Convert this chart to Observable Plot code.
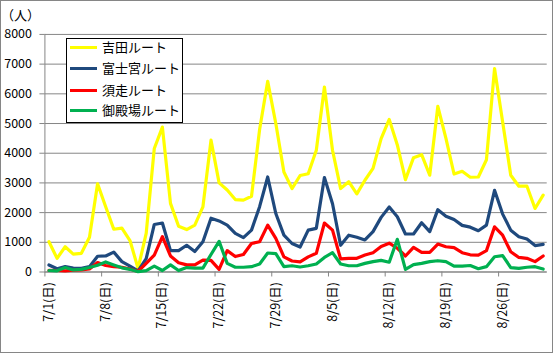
<!DOCTYPE html>
<html><head><meta charset="utf-8">
<script src="https://cdn.jsdelivr.net/npm/d3@7"></script>
<script src="https://cdn.jsdelivr.net/npm/@observablehq/plot@0.6"></script>
<style>
body{margin:0;background:#fff}
#wrap{position:relative;width:553px;height:353px;box-sizing:border-box;border:1px solid #868686;overflow:hidden;font-family:"Noto Sans CJK JP",sans-serif;color:#000}
#chart{position:absolute;left:-1px;top:-1px}
#unit{position:absolute;left:0px;top:4px;font-size:13px;line-height:20px}
#legend{position:absolute;left:65px;top:37px;width:117px;height:85px;box-sizing:border-box;border:1px solid #000;background:#fff}
.row{position:absolute;left:3px;height:20px;line-height:20px;font-size:13px;white-space:nowrap}
.sw{display:inline-block;width:27px;height:3px;vertical-align:middle;margin-right:5px;position:relative;top:-1px}
</style></head>
<body>
<div id="wrap">
  <div id="chart"></div>
  <div id="unit">（人）</div>
  <div id="legend"></div>
</div>
<script>
// categories: 2012/7/1 - 8/31
const days = ["7/1","7/2","7/3","7/4","7/5","7/6","7/7","7/8","7/9","7/10","7/11","7/12","7/13","7/14","7/15","7/16","7/17","7/18","7/19","7/20","7/21","7/22","7/23","7/24","7/25","7/26","7/27","7/28","7/29","7/30","7/31",
"8/1","8/2","8/3","8/4","8/5","8/6","8/7","8/8","8/9","8/10","8/11","8/12","8/13","8/14","8/15","8/16","8/17","8/18","8/19","8/20","8/21","8/22","8/23","8/24","8/25","8/26","8/27","8/28","8/29","8/30","8/31"];
const routes = ["吉田ルート","富士宮ルート","須走ルート","御殿場ルート"];
const colors = ["#FFFF00","#1F497D","#FF0000","#00B050"];
const yoshida = [1020,460,850,600,630,1170,2970,2200,1440,1480,1060,120,1300,4160,4880,2310,1540,1430,1580,2190,4440,3000,2760,2440,2420,2550,4800,6420,5000,3370,2810,
3250,3310,4100,6230,4100,2810,3040,2630,3090,3490,4490,5140,4280,3110,3850,3950,3260,5580,4500,3300,3390,3190,3200,3780,6850,5050,3260,2890,2890,2140,2590];
const fujinomiya = [235,110,180,130,125,180,530,540,670,350,200,40,450,1600,1650,720,720,900,690,1020,1810,1720,1580,1300,1160,1410,2200,3200,1970,1240,960,
840,1410,1470,3180,2300,900,1240,1170,1080,1360,1840,2190,1860,1280,1280,1660,1360,2100,1880,1770,1570,1510,1390,1580,2750,1950,1410,1190,1110,890,930];
const subashiri = [60,50,40,60,70,100,320,220,180,160,100,20,290,570,1190,540,310,240,240,400,390,90,720,520,590,960,1020,1580,1130,510,370,
340,510,630,1650,1410,440,460,460,570,650,860,970,800,540,830,660,660,940,850,820,650,580,570,720,1520,1240,680,490,460,350,540];
const gotemba = [50,40,150,70,90,150,230,340,240,140,90,10,45,200,50,240,50,150,130,130,590,1030,290,160,160,180,270,640,620,180,210,
170,210,270,490,650,270,210,210,290,350,390,330,1100,90,250,290,350,380,350,200,200,220,110,180,515,550,150,120,160,180,100];
const series = [yoshida, fujinomiya, subashiri, gotemba];
const yTicks = [0,1000,2000,3000,4000,5000,6000,7000,8000];
const tickLabels = ["7/1(日)","7/8(日)","7/15(日)","7/22(日)","7/29(日)","8/5(日)","8/12(日)","8/19(日)","8/26(日)"];

const labelIdx = tickLabels.map(t => days.indexOf(t.replace("(日)","")));
const boundaries = labelIdx.map(i => i - 0.5);
const gray = "#868686";

const lineMarks = series.map((vals, k) =>
  Plot.lineY(vals.map((v, i) => ({i, v})), {x: "i", y: "v", stroke: colors[k], strokeWidth: 3.2, strokeLinejoin: "round", strokeLinecap: "round"})
);

const chart = Plot.plot({
  width: 553, height: 353,
  marginLeft: 44.5, marginRight: 5.3, marginTop: 34, marginBottom: 81,
  style: {fontFamily: '"Noto Sans CJK JP", sans-serif', fontSize: "12px", color: "#000", background: "transparent", overflow: "visible"},
  x: {type: "linear", domain: [-0.5, 61.5], axis: null},
  y: {domain: [0, 8000], axis: null},
  marks: [
    Plot.gridY(yTicks, {stroke: gray, strokeOpacity: 1}),
    Plot.axisY(yTicks, {tickSize: 5, tickPadding: 8, stroke: gray, label: null, tickFormat: d => String(d), fontSize: 12.5}),
    Plot.ruleX([-0.5], {stroke: gray}),
    Plot.ruleY([0], {stroke: gray}),
    Plot.axisX(boundaries, {tickSize: 5, tickFormat: () => "", stroke: gray, label: null}),
    Plot.axisX(labelIdx, {tickSize: 0, tickPadding: 10, tickRotate: -90, tickFormat: i => tickLabels[labelIdx.indexOf(i)], label: null, fontSize: 12.5}),
    ...lineMarks
  ]
});
document.getElementById("chart").appendChild(chart);

const legend = document.getElementById("legend");
const rowCenters = [47, 68, 90, 110];
routes.forEach((r, k) => {
  const row = document.createElement("div");
  row.className = "row";
  row.style.top = (rowCenters[k] - 38 - 1 - 10) + "px";
  row.innerHTML = `<span class="sw" style="background:${colors[k]}"></span>${r}`;
  legend.appendChild(row);
});
</script>
</body></html>
